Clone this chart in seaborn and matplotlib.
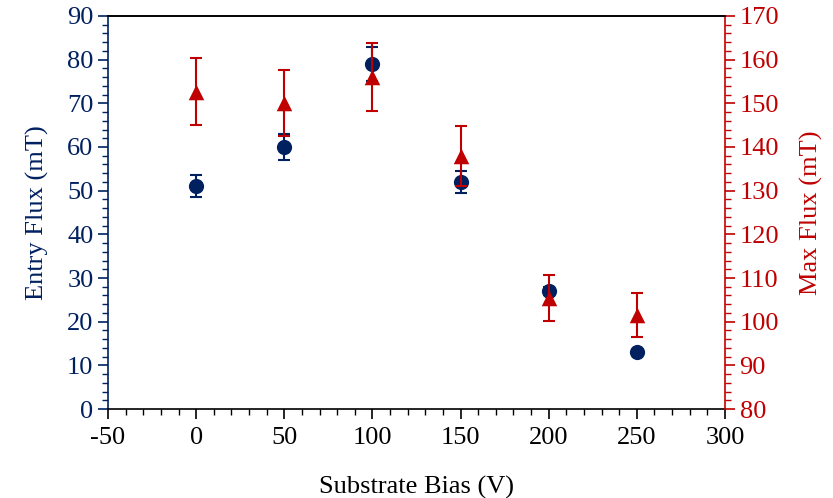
import matplotlib
matplotlib.use("Agg")
import matplotlib.pyplot as plt
from matplotlib.ticker import MultipleLocator
import seaborn as sns
import pandas as pd

# Substrate bias settings (V)
bias = [0, 50, 100, 150, 200, 250]
# Entry flux (mT) and its error
entry_flux = [51, 60, 79, 52, 27, 13]
entry_err = [2.5, 3.0, 4.0, 2.5, 1.0, 0.0]
# Maximum flux (mT) and its error
max_flux = [152.7, 150.1, 156.0, 137.9, 105.4, 101.6]
max_err = [7.6, 7.5, 7.7, 6.9, 5.3, 5.0]

navy = "#002060"
red = "#C00000"

sns.set_style("ticks")
plt.rcParams["font.family"] = ["Liberation Serif", "DejaVu Serif"]
plt.rcParams["font.size"] = 19
plt.rcParams["axes.unicode_minus"] = False

df = pd.DataFrame({"bias": bias, "entry": entry_flux, "entry_err": entry_err,
                   "max": max_flux, "max_err": max_err})

fig = plt.figure(figsize=(8.33, 4.98), dpi=100)
ax = fig.add_axes([0.1297, 0.1787, 0.7406, 0.7892])
ax2 = ax.twinx()

# Entry flux on the left axis
ax.errorbar(df["bias"], df["entry"], yerr=df["entry_err"], fmt="none",
            ecolor=navy, elinewidth=1.5, capsize=4.5, capthick=1.5, zorder=2)
sns.scatterplot(data=df, x="bias", y="entry", ax=ax, marker="o", s=120,
                color=navy, edgecolor=navy, linewidth=0, zorder=3, legend=False)

# Max flux on the right axis
ax2.errorbar(df["bias"], df["max"], yerr=df["max_err"], fmt="none",
             ecolor=red, elinewidth=1.5, capsize=4.5, capthick=1.5, zorder=2)
sns.scatterplot(data=df, x="bias", y="max", ax=ax2, marker="^", s=125,
                color=red, edgecolor=red, linewidth=0, zorder=3, legend=False)

ax.set_xlim(-50, 300)
ax.set_ylim(0, 90)
ax2.set_ylim(80, 170)

ax.xaxis.set_major_locator(MultipleLocator(50))
ax.xaxis.set_minor_locator(MultipleLocator(10))
ax.yaxis.set_major_locator(MultipleLocator(10))
ax.yaxis.set_minor_locator(MultipleLocator(2))
ax2.yaxis.set_major_locator(MultipleLocator(10))
ax2.yaxis.set_minor_locator(MultipleLocator(2))

ax.set_xlabel("Substrate Bias (V)", color="black", labelpad=19)
ax.set_ylabel("Entry Flux (mT)", color=navy, labelpad=13)
ax2.set_ylabel("Max Flux (mT)", color=red, labelpad=15)

ax.tick_params(axis="x", which="major", direction="out", length=7, width=1.2,
               colors="black", labelsize=19, pad=6)
ax.tick_params(axis="x", which="minor", direction="out", length=4, width=1.0,
               colors="black")
ax.tick_params(axis="y", which="major", direction="out", length=7, width=1.2,
               colors=navy, labelsize=19)
ax.tick_params(axis="y", which="minor", direction="out", length=4, width=1.0,
               colors=navy)
ax2.tick_params(axis="y", which="major", direction="out", length=7, width=1.2,
                colors=red, labelsize=19)
ax2.tick_params(axis="y", which="minor", direction="out", length=4, width=1.0,
                colors=red)

for a in (ax, ax2):
    for s in a.spines.values():
        s.set_linewidth(1.2)
ax.spines["left"].set_color(navy)
ax.spines["bottom"].set_color("black")
ax.spines["top"].set_color("black")
ax.spines["right"].set_visible(False)
ax2.spines["right"].set_color(red)
ax2.spines["left"].set_visible(False)
ax2.spines["bottom"].set_visible(False)
ax2.spines["top"].set_color("black")

fig.savefig("out.png", dpi=100)
